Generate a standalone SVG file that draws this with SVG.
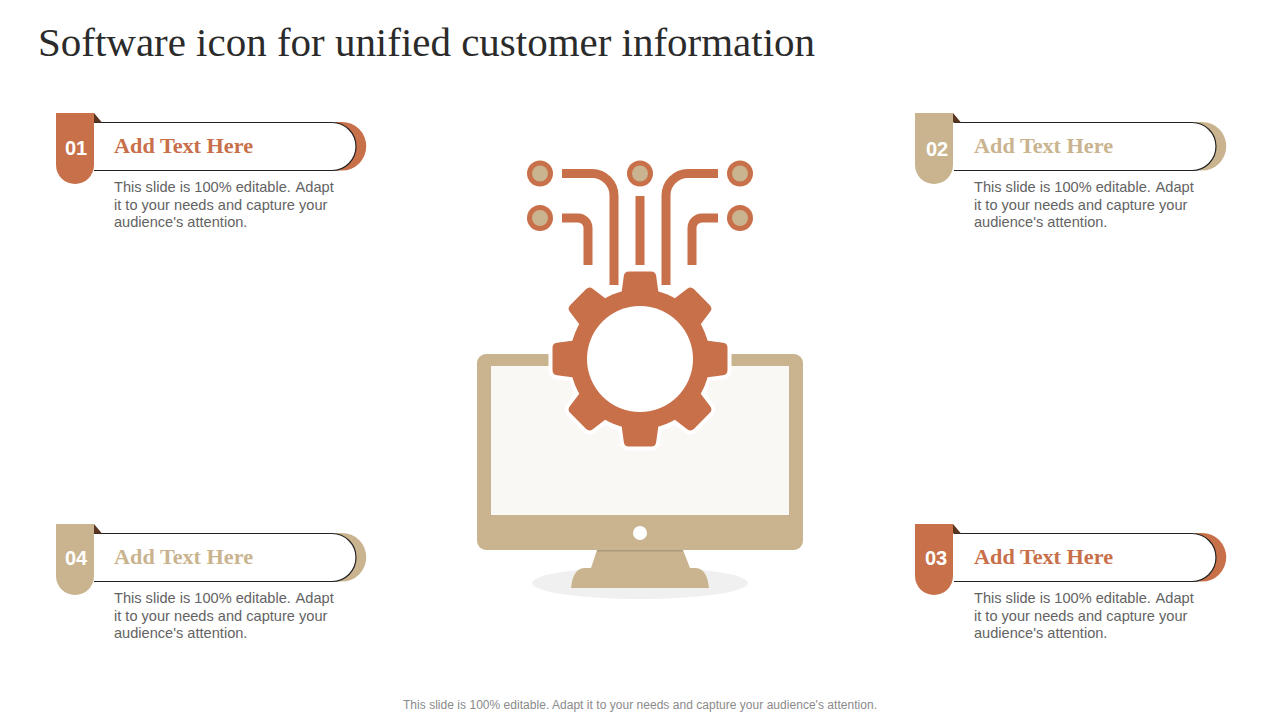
<svg xmlns="http://www.w3.org/2000/svg" xmlns:xlink="http://www.w3.org/1999/xlink" width="1280" height="720" viewBox="0 0 1280 720">
<style>
.rust{color:#c8704a}
.tan{color:#cab48f}
.fill{fill:currentColor}
.title{font:40px "Liberation Serif",serif;fill:#2b2b2b}
.head{font:bold 21px "Liberation Serif",serif;fill:currentColor}
.num{font:bold 20px "Liberation Sans",sans-serif;fill:#fff;text-anchor:middle}
.body{font:14.600px "Liberation Sans",sans-serif;fill:#636363}
.foot{font:12px "Liberation Sans",sans-serif;fill:#8a8a8a;text-anchor:middle}
.trace{fill:none;stroke:#c8704a;stroke-width:9}
.pin{fill:#cab48f;stroke:#c8704a;stroke-width:5}
.halo{fill:#fff;stroke:#fff;stroke-width:8;stroke-linejoin:round}
.gear{fill:#c8704a}
</style>
<defs>
<path id="tooth" d="M-18.500,-66 L-16.200,-83 Q-15.700,-87.500 -11,-87.500 H11 Q15.700,-87.500 16.200,-83 L18.500,-66 Z"/>
<g id="band">
<path class="fill" d="M335,122 H342 A24,24 0 0 1 342,170.500 H335 Z"/>
<path d="M94,122.500 H332 A24,24 0 0 1 332,170.500 H94" fill="#fff" stroke="#222" stroke-width="1.200"/>
</g>
<g id="tab">
<path d="M94,113 L102,122.500 H94 Z" fill="#5a3520"/>
<path class="fill" d="M56,113 H94 V165 A19,19 0 0 1 56,165 Z"/>
</g>
<g id="teeth">
<use xlink:href="#tooth"/>
<use xlink:href="#tooth" transform="rotate(45)"/>
<use xlink:href="#tooth" transform="rotate(90)"/>
<use xlink:href="#tooth" transform="rotate(135)"/>
<use xlink:href="#tooth" transform="rotate(180)"/>
<use xlink:href="#tooth" transform="rotate(225)"/>
<use xlink:href="#tooth" transform="rotate(270)"/>
<use xlink:href="#tooth" transform="rotate(315)"/>
<circle r="70"/>
</g>
</defs>
<rect width="1280" height="720" fill="#fff"/>
<text class="title" x="38" y="56" textLength="777" lengthAdjust="spacingAndGlyphs">Software icon for unified customer information</text>

<g id="monitor">
<ellipse cx="640" cy="583" rx="108" ry="16" fill="#f0f0f0"/>
<path d="M597,550 H683 L690,568 H695 Q707,568 709,588 H571 Q573,568 585,568 H591 Z" fill="#cab48f"/>
<rect x="597" y="550" width="86" height="1.500" fill="#a8997f"/>
<rect x="477" y="354" width="326" height="196" rx="9" fill="#cab48f"/>
<rect x="491" y="366" width="298" height="149" fill="#f9f8f5"/>
<circle cx="640" cy="533" r="7" fill="#fff"/>
</g>

<g id="gear" transform="translate(640,359)">
<use xlink:href="#teeth" class="halo"/>
<use xlink:href="#teeth" class="gear"/>
<circle r="53" fill="#fff"/>
</g>

<g id="circuit">
<path class="trace" d="M562,173.500 H592 A22,22 0 0 1 614,196 V285"/>
<path class="trace" d="M718,173.500 H688 A22,22 0 0 0 666,196 V285"/>
<path class="trace" d="M562,218 H578 A10,10 0 0 1 588,228 V265"/>
<path class="trace" d="M718,218 H702 A10,10 0 0 0 692,228 V265"/>
<path class="trace" d="M640,196 V265"/>
<circle class="pin" cx="540" cy="173.500" r="10.500"/>
<circle class="pin" cx="640" cy="173.500" r="10.500"/>
<circle class="pin" cx="740" cy="173.500" r="10.500"/>
<circle class="pin" cx="540" cy="218" r="10.500"/>
<circle class="pin" cx="740" cy="218" r="10.500"/>
</g>

<g id="item-01" class="rust">
<use xlink:href="#band"/>
<use xlink:href="#tab"/>
<text class="num" x="76" y="155">01</text>
<text class="head" x="114" y="153" textLength="139" lengthAdjust="spacingAndGlyphs">Add Text Here</text>
<text class="body" x="114" y="192">This slide is 100% editable. <tspan dx="1.500">Adapt</tspan></text>
<text class="body" x="114" y="210">it to your needs and capture your</text>
<text class="body" x="114" y="227">audience's attention.</text>
</g>

<g id="item-02" class="tan">
<use xlink:href="#band" x="860"/>
<use xlink:href="#tab" x="859"/>
<text class="num" x="937" y="156">02</text>
<text class="head" x="974" y="153" textLength="139" lengthAdjust="spacingAndGlyphs">Add Text Here</text>
<text class="body" x="974" y="192">This slide is 100% editable. <tspan dx="1.500">Adapt</tspan></text>
<text class="body" x="974" y="210">it to your needs and capture your</text>
<text class="body" x="974" y="227">audience's attention.</text>
</g>

<g id="item-03" class="rust">
<use xlink:href="#band" x="860" y="411"/>
<use xlink:href="#tab" x="859" y="411"/>
<text class="num" x="936" y="565">03</text>
<text class="head" x="974" y="564" textLength="139" lengthAdjust="spacingAndGlyphs">Add Text Here</text>
<text class="body" x="974" y="603">This slide is 100% editable. <tspan dx="1.500">Adapt</tspan></text>
<text class="body" x="974" y="621">it to your needs and capture your</text>
<text class="body" x="974" y="638">audience's attention.</text>
</g>

<g id="item-04" class="tan">
<use xlink:href="#band" y="411"/>
<use xlink:href="#tab" y="411"/>
<text class="num" x="76" y="565">04</text>
<text class="head" x="114" y="564" textLength="139" lengthAdjust="spacingAndGlyphs">Add Text Here</text>
<text class="body" x="114" y="603">This slide is 100% editable. <tspan dx="1.500">Adapt</tspan></text>
<text class="body" x="114" y="621">it to your needs and capture your</text>
<text class="body" x="114" y="638">audience's attention.</text>
</g>

<text class="foot" x="640" y="709" textLength="474">This slide is 100% editable. Adapt it to your needs and capture your audience's attention.</text>
</svg>
